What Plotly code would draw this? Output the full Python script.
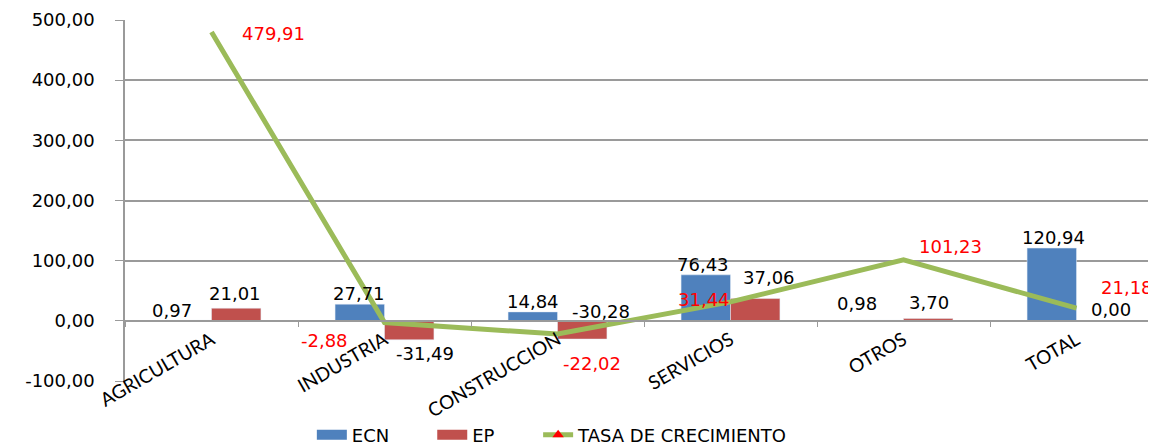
import plotly.graph_objects as go

# ---- data ----
categories = ["AGRICULTURA", "INDUSTRIA", "CONSTRUCCION", "SERVICIOS", "OTROS", "TOTAL"]
ecn = [0.97, 27.71, 14.84, 76.43, 0.98, 120.94]
ep = [21.01, -31.49, -30.28, 37.06, 3.70, 0.00]
tasa = [479.91, -2.88, -22.02, 31.44, 101.23, 21.18]
y_tick_vals = [-100, 0, 100, 200, 300, 400, 500]
y_tick_text = ["-100,00", "0,00", "100,00", "200,00", "300,00", "400,00", "500,00"]

# ---- label offsets (pixels, style only) ----
ecn_off = [(-40, 10), (-26, 11), (-25, 10), (-28, 10), (-47, 17), (-23, 11)]
ep_off = [(23, 15), (40, -14), (43, 28), (38, 21), (25, 16), (34, 11)]
tasa_off = [(62, -1), (-60, -18), (34, -29), (-27, 2), (47, 13), (50, 21)]

BLUE = "#4F81BD"
RED = "#C0504D"
GREEN = "#9BBB59"
GRID = "#9a9a9a"
VAL_FONT = dict(family="DejaVu Sans", size=18, color="#000000")
LEG_FONT = dict(family="DejaVu Sans", size=18, color="#000000")


def fmt(v):
    return f"{v:.2f}".replace(".", ",")


fig = go.Figure()
fig.add_trace(go.Bar(x=categories, y=ecn, name="ECN", marker=dict(color=BLUE), showlegend=False))
fig.add_trace(go.Bar(x=categories, y=ep, name="EP", marker=dict(color=RED), showlegend=False))
fig.add_trace(go.Scatter(x=categories, y=tasa, mode="lines", name="TASA DE CRECIMIENTO",
                         showlegend=False, line=dict(color=GREEN, width=5)))

# legend entries (wide swatches like the original)
fig.add_trace(go.Scatter(x=[None], y=[None], mode="lines", name="ECN", legend="legend",
                         line=dict(color=BLUE, width=11)))
fig.add_trace(go.Scatter(x=[None], y=[None], mode="lines", name="EP", legend="legend2",
                         line=dict(color=RED, width=11)))
fig.add_trace(go.Scatter(x=[None], y=[None], mode="lines+markers", name="TASA DE CRECIMIENTO",
                         legend="legend3", line=dict(color=GREEN, width=5),
                         marker=dict(symbol="triangle-up", color="#FF0000", size=10)))

annotations = []
for i, cat in enumerate(categories):
    for vals, offs, col in ((ecn, ecn_off, "#000000"), (ep, ep_off, "#000000"), (tasa, tasa_off, "#FF0000")):
        dx, dy = offs[i]
        annotations.append(dict(
            x=i, y=vals[i], xref="x", yref="y", text=fmt(vals[i]), showarrow=False,
            xanchor="center", yanchor="middle", xshift=dx, yshift=dy,
            font=dict(family="DejaVu Sans", size=18, color=col)))

leg_common = dict(orientation="h", xanchor="left", y=-0.15, yanchor="middle",
                  font=LEG_FONT, bgcolor="rgba(0,0,0,0)")

fig.update_layout(
    width=1156, height=447,
    margin=dict(l=117, r=1, t=12, b=74, autoexpand=False),
    paper_bgcolor="white", plot_bgcolor="white",
    barmode="group", bargap=0.4286, bargroupgap=0,
    annotations=annotations,
    showlegend=True,
    legend=dict(x=0.180, **leg_common),
    legend2=dict(x=0.296, **leg_common),
    legend3=dict(x=0.398, **leg_common),
    xaxis=dict(
        type="category", range=[-0.5, 5.5], anchor="free", position=1 / 6,
        showline=True, linecolor=GRID, linewidth=1.5,
        ticks="outside", ticklen=5, tickcolor=GRID, tickson="boundaries",
        tickangle=-30, showgrid=False, zeroline=False,
        tickfont=dict(family="Lato", size=19, color="#000000"),
    ),
    yaxis=dict(
        range=[-100, 500], domain=[0, 1],
        tickvals=y_tick_vals, ticktext=y_tick_text,
        showline=True, linecolor=GRID, linewidth=1.5,
        ticks="outside", ticklen=8, tickcolor=GRID, ticklabelstandoff=17,
        showgrid=True, gridcolor=GRID, gridwidth=1.5, zeroline=False,
        tickfont=VAL_FONT,
    ),
)

fig.write_html("out.html")
